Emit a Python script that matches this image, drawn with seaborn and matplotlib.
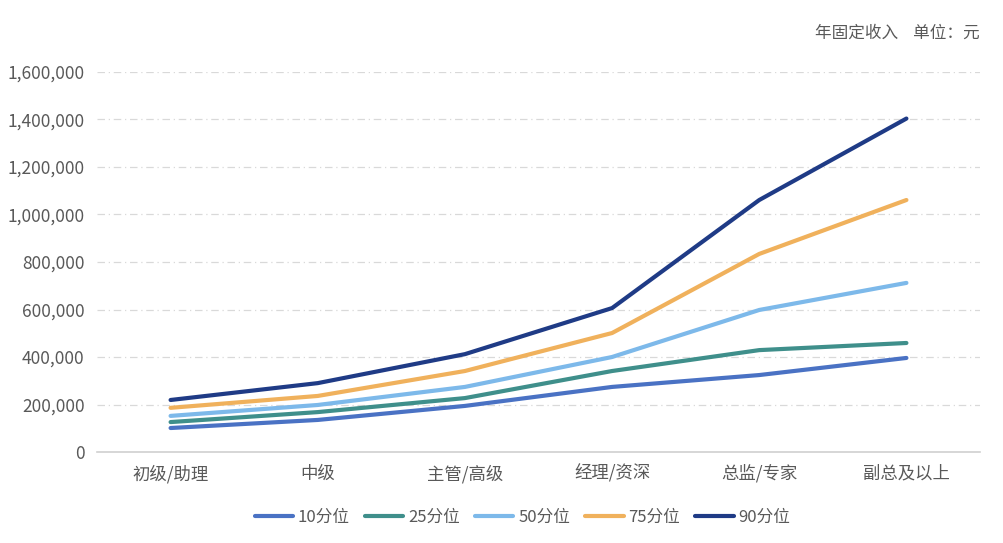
import matplotlib
matplotlib.use("Agg")

import matplotlib.pyplot as plt
import matplotlib.ticker as mticker
import seaborn as sns
import pandas as pd

levels = ["初级/助理", "中级", "主管/高级", "经理/资深", "总监/专家", "副总及以上"]
p10 = [101000, 135000, 194000, 274000, 324000, 396000]
p25 = [126000, 168000, 227000, 341000, 429000, 459000]
p50 = [152000, 198000, 274000, 400000, 598000, 712000]
p75 = [186000, 236000, 341000, 501000, 834000, 1061000]
p90 = [219000, 290000, 412000, 606000, 1061000, 1404000]
series_names = ["10分位", "25分位", "50分位", "75分位", "90分位"]
colors = ["#4a72c4", "#3f8f8b", "#7db9ea", "#f0b15c", "#1f3b86"]

rows = []
for name, vals in zip(series_names, [p10, p25, p50, p75, p90]):
    for lvl, v in zip(levels, vals):
        rows.append({"level": lvl, "value": v, "series": name})
df = pd.DataFrame(rows)
df["x"] = df["level"].map({l: i for i, l in enumerate(levels)})

sns.set_theme(style="white")
plt.rcParams["font.family"] = ["Noto Sans CJK SC", "DejaVu Sans"]

fig = plt.figure(figsize=(10.04, 5.43), dpi=100)
ax = fig.add_axes([97 / 1004, 1 - 452 / 543, (980 - 97) / 1004, (452 - 72) / 543])

sns.lineplot(data=df, x="x", y="value", hue="series", hue_order=series_names,
             palette=colors, linewidth=3, ax=ax, legend=True)

ax.set_xlim(-0.5, 5.5)
ax.set_ylim(0, 1600000)
ax.set_xticks(range(len(levels)))
ax.set_xticklabels(levels)
ax.yaxis.set_major_locator(mticker.MultipleLocator(200000))
ax.yaxis.set_major_formatter(mticker.FuncFormatter(lambda v, p: f"{int(v):,}"))
ax.tick_params(axis="y", labelsize=12.5, labelcolor="#595959", length=0, pad=9)
ax.tick_params(axis="x", labelsize=12.5, labelcolor="#595959", length=0, pad=9)
ax.set_xlabel("")
ax.set_ylabel("")

for y in range(200000, 1600001, 200000):
    ax.axhline(y, color="#d9d9d9", linewidth=0.9, linestyle=(0, (6, 3, 1, 3)), zorder=0)

for s in ["top", "right", "left"]:
    ax.spines[s].set_visible(False)
ax.spines["bottom"].set_color("#d0d0d0")
ax.spines["bottom"].set_linewidth(1.2)

ax.legend(loc="upper center", bbox_to_anchor=(0.482, -0.11), ncol=5, frameon=False,
          fontsize=12, handlelength=2.3, handletextpad=0.3, columnspacing=0.9,
          labelcolor="#595959")

fig.text(980 / 1004, 1 - 33 / 543, "年固定收入    单位：元", ha="right", va="center",
         fontsize=12, color="#595959")

fig.savefig("out.png", dpi=100)
